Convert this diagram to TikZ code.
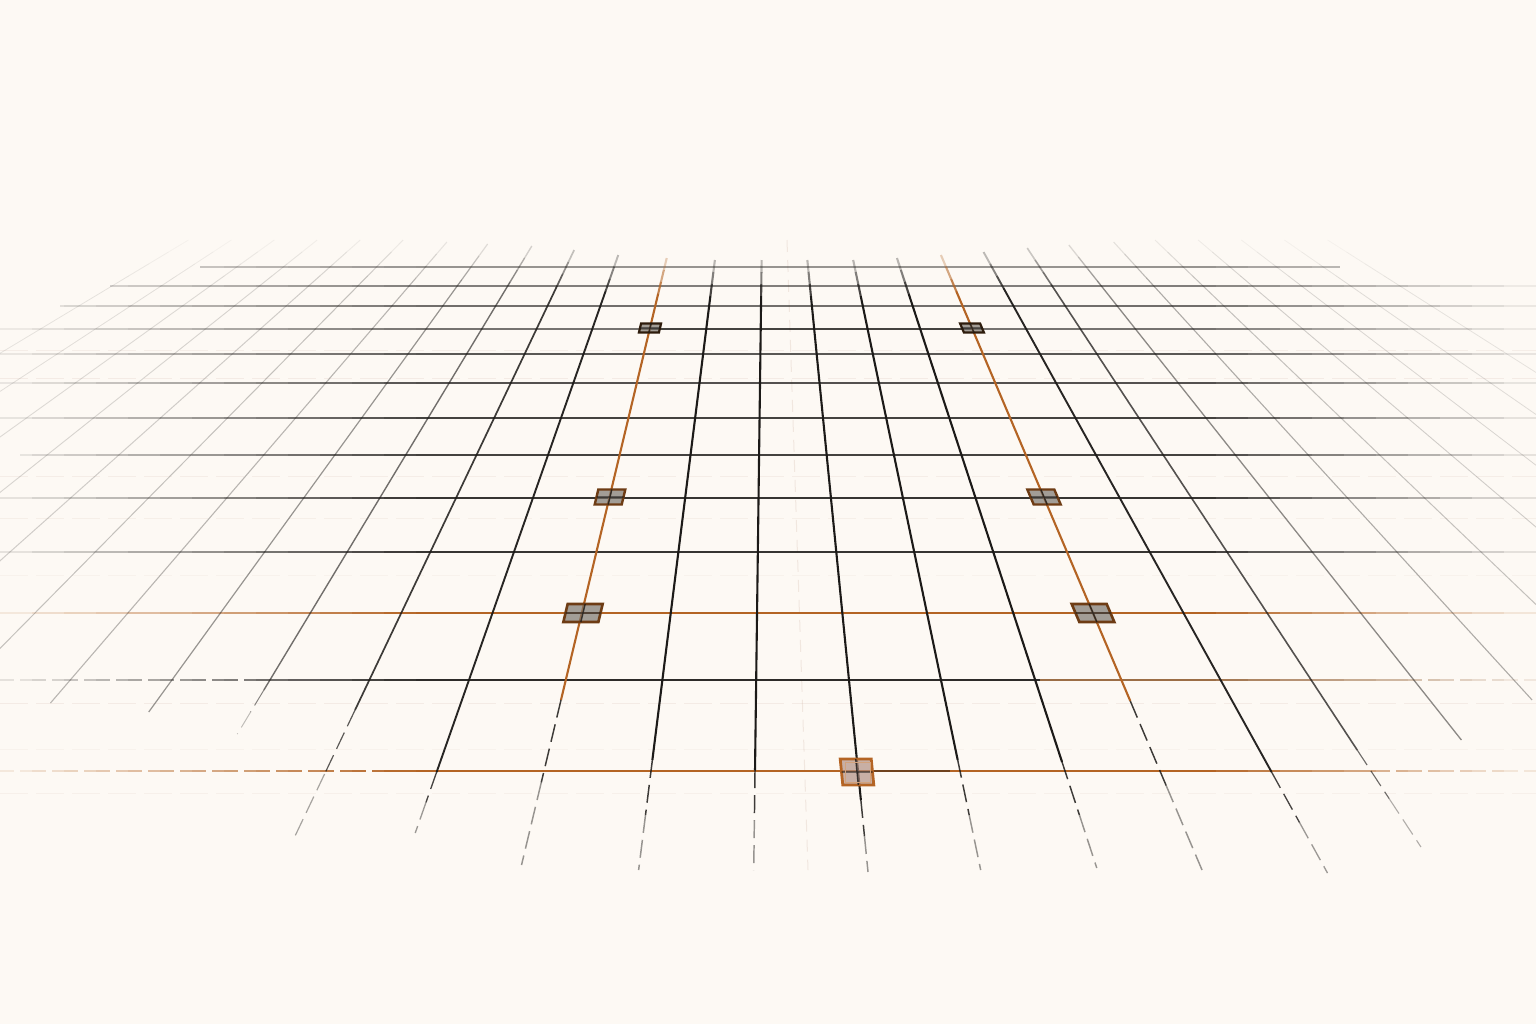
\documentclass[tikz,border=0pt]{standalone}
\definecolor{bg}{RGB}{253,249,244}
\definecolor{ink}{RGB}{28,26,24}
\definecolor{rust}{RGB}{180,100,36}
\definecolor{rustdark}{RGB}{140,86,40}
\definecolor{ghost}{RGB}{200,168,152}
\definecolor{edgedark}{RGB}{46,28,12}
\definecolor{edgebrown}{RGB}{110,60,20}
\definecolor{platefill}{RGB}{120,114,106}
\definecolor{pinkfill}{RGB}{175,140,128}
\newcommand{\gridplate}[8]{%
  \filldraw[draw=#6, fill=#7, fill opacity=0.68, line width=#8, line join=miter]
   ({#1-(#3)/2-(#5)*(#4)/2},{#2-(#4)/2}) -- ({#1+(#3)/2-(#5)*(#4)/2},{#2-(#4)/2})
   -- ({#1+(#3)/2+(#5)*(#4)/2},{#2+(#4)/2}) -- ({#1-(#3)/2+(#5)*(#4)/2},{#2+(#4)/2}) -- cycle;
  \draw[draw=ink, draw opacity=0.8, line width=0.7pt]
   ({#1-(#3)/2},#2) -- ({#1+(#3)/2},#2)
   ({#1-(#5)*(#4)/2},{#2-(#4)/2}) -- ({#1+(#5)*(#4)/2},{#2+(#4)/2});
}
\begin{document}
\begin{tikzpicture}[x=0.5pt,y=-0.5pt]
\fill[bg] (0,0) rectangle (1536,1024);
\useasboundingbox (0,0) rectangle (1536,1024);
\clip (0,0) rectangle (1536,1024);

% ---------- faint ghost rows ----------
\foreach \gy/\gop in {350/0.14,378/0.16,476/0.14,518/0.12,575/0.08,703/0.16,749/0.08,793/0.1}{
  \draw[draw=ghost, draw opacity=\gop, line width=0.5pt, dash pattern=on 14pt off 4pt] (0,\gy) -- (1536,\gy);
}
\draw[draw=ghost, draw opacity=0.22, line width=0.5pt, dash pattern=on 6pt off 4pt] (787,240) -- (808,870);

% ---------- horizontal rows ----------
\foreach \hy/\hop/\hcol/\hlw/\hxa/\hxb/\hdl/\hdr in {
 267/0.45/ink/0.6/200/1340/-1/2000,
 286/0.55/ink/0.65/110/1536/-1/2000,
 306/0.62/ink/0.7/60/1536/-1/2000,
 329/0.6/ink/0.75/0/1536/-1/2000,
 329/0.55/ink/0.75/650/972/-1/2000,
 354/0.72/ink/0.75/0/1536/-1/2000,
 383/0.75/ink/0.78/0/1536/-1/2000,
 418/0.82/ink/0.8/0/1536/-1/2000,
 455/0.82/ink/0.82/20/1536/-1/2000,
 498/0.88/ink/0.88/0/1536/-1/2000,
 552/0.88/ink/0.9/0/1536/-1/2000,
 613/1/rust/1.0/0/1536/-1/2000,
 680/0.92/ink/0.95/0/1040/270/2000,
 680/0.85/rustdark/0.95/1040/1536/-1/1420,
 771/1/rust/1.05/0/1536/390/1380}{
  \foreach \hs in {0,...,47}{
    \pgfmathsetmacro\hxl{max(32*\hs,\hxa)}
    \pgfmathsetmacro\hxr{min(32*\hs+32,\hxb)}
    \pgfmathsetmacro\hxm{32*\hs+16}
    \pgfmathtruncatemacro\hok{\hxr>\hxl ? 1 : 0}
    \ifnum\hok=1
      \pgfmathsetmacro\hff{\hxm<420 ? 0.08+0.92*\hxm/420 : (\hxm>1200 ? 0.08+0.92*(1536-\hxm)/336 : 1)}
      \pgfmathsetmacro\hoo{\hop*\hff}
      \pgfmathtruncatemacro\hdd{(\hxm<\hdl || \hxm>\hdr) ? 1 : 0}
      \ifnum\hdd=1
        \draw[draw=\hcol, draw opacity=\hoo, line width=\hlw pt, dash pattern=on 7pt off 3pt] (\hxl,\hy) -- (\hxr,\hy);
      \else
        \draw[draw=\hcol, draw opacity=\hoo, line width=\hlw pt] (\hxl,\hy) -- (\hxr,\hy);
      \fi
    \fi
  }
}
% darker stretch beside the centre plate
\draw[draw=ink, draw opacity=0.45, line width=1pt] (873,771) -- (950,771);

% ---------- converging lines ----------
\foreach \pa/\pc/\vop/\vcol/\vlw/\vys/\vyso/\vyd in {
 77/-695/0.10/ink/0.4/240/560/560,
 129/-580/0.12/ink/0.4/240/580/580,
 181/-465/0.14/ink/0.45/240/600/600,
 233/-350/0.17/ink/0.45/240/620/620,
 285/-236/0.2/ink/0.5/240/660/660,
 337/-121/0.25/ink/0.5/240/690/690,
 391/-8/0.3/ink/0.55/242/703/703,
 442/106/0.45/ink/0.6/244/712/712,
 495/215/0.62/ink/0.7/246/690/734,
 547/326/0.85/ink/0.85/250/710/838,
 600/437/0.95/ink/0.95/255/772/833,
 655/544/1/rust/1.05/258/700/865,
 709/651/1/ink/1.05/260/760/870,
 761/755/1/ink/1.05/260/770/870,
 812/858/1/ink/1.05/260/800/872,
 863/960/1/ink/1.05/260/760/870,
 913/1065/1/ink/1.05/258/762/868,
 963/1160/1/rust/1.05/255/701/870,
 1014/1271/0.95/ink/0.95/252/772/873,
 1066/1371/0.75/ink/0.8/248/750/847,
 1118/1486/0.5/ink/0.65/245/740/740,
 1173/1597/0.35/ink/0.55/242/700/700,
 1225/1710/0.25/ink/0.5/240/660/660,
 1277/1823/0.2/ink/0.45/240/640/640,
 1329/1936/0.16/ink/0.4/240/620/620,
 1381/2050/0.13/ink/0.4/240/600/600,
 1433/2163/0.1/ink/0.4/240/580/580}{
  \pgfmathsetmacro\slp{(\pc-\pa)/464}
  \foreach \vi/\vfa in {0/0.3,1/0.55,2/0.8}{
    \pgfmathsetmacro\vya{\vys+12*\vi}
    \pgfmathsetmacro\vyb{\vys+12*\vi+12}
    \pgfmathsetmacro\voo{\vop*\vfa}
    \draw[draw=\vcol, draw opacity=\voo, line width=\vlw pt] ({\pa+\slp*(\vya-307)},\vya) -- ({\pa+\slp*(\vyb-307)},\vyb);
  }
  \pgfmathsetmacro\vya{\vys+36}
  \draw[draw=\vcol, draw opacity=\vop, line width=\vlw pt] ({\pa+\slp*(\vya-307)},\vya) -- ({\pa+\slp*(\vyso-307)},\vyso);
  \pgfmathtruncatemacro\vhd{\vyd>\vyso+1 ? 1 : 0}
  \ifnum\vhd=1
    \pgfmathsetmacro\vym{(\vyso+\vyd)/2}
    \pgfmathsetmacro\vob{\vop*0.85}
    \pgfmathsetmacro\voc{\vop*0.45}
    \pgfmathsetmacro\vlb{\vlw*0.7}
    \draw[draw=ink, draw opacity=\vob, line width=\vlb pt, dash pattern=on 9pt off 3.5pt] ({\pa+\slp*(\vyso-307)},\vyso) -- ({\pa+\slp*(\vym-307)},\vym);
    \draw[draw=ink, draw opacity=\voc, line width=\vlb pt, dash pattern=on 9pt off 3.5pt] ({\pa+\slp*(\vym-307)},\vym) -- ({\pa+\slp*(\vyd-307)},\vyd);
  \fi
}

% ---------- plates at the crossings ----------
\gridplate{650}{328}{20}{9}{-0.239}{edgedark}{platefill}{1.1pt}
\gridplate{972}{328}{20}{9}{0.425}{edgedark}{platefill}{1.1pt}
\gridplate{610}{497}{27}{15}{-0.239}{edgebrown}{platefill}{1.2pt}
\gridplate{1044}{497}{27}{15}{0.425}{edgebrown}{platefill}{1.2pt}
\gridplate{583}{613}{35}{18}{-0.239}{edgebrown}{platefill}{1.3pt}
\gridplate{1093}{613}{35}{18}{0.425}{edgebrown}{platefill}{1.3pt}
\gridplate{857}{772}{31}{26}{0.099}{rust}{pinkfill}{1.4pt}
\draw[draw=rust!60!white, line width=0.5pt] (845,762) rectangle (870,782);
\end{tikzpicture}
\end{document}
